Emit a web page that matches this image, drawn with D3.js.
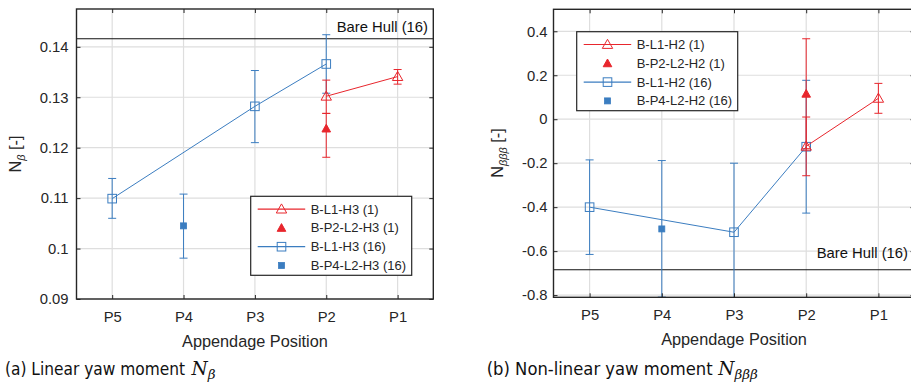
<!DOCTYPE html>
<html><head><meta charset="utf-8">
<script src="https://cdn.jsdelivr.net/npm/d3@7"></script>
<style>
html,body{margin:0;padding:0;background:#fff;}
svg{display:block;}
</style></head>
<body><div id="chart"></div>
<script>
// ---------- DATA ----------
const positions = ["P5", "P4", "P3", "P2", "P1"];

// Panel (a): linear yaw moment N_beta
const aTicks = [0.09, 0.10, 0.11, 0.12, 0.13, 0.14];
const aTickLabels = ["0.09", "0.1", "0.11", "0.12", "0.13", "0.14"];
const aL1H3_1 = [NaN, NaN, NaN, 0.1302, 0.1341];
const aL1H3_1_lo = [NaN, NaN, NaN, 0.1268, 0.1326];
const aL1H3_1_hi = [NaN, NaN, NaN, 0.1334, 0.1355];
const aP2L2H3_1 = [NaN, NaN, NaN, 0.1238, NaN];
const aP2L2H3_1_lo = [NaN, NaN, NaN, 0.1181, NaN];
const aP2L2H3_1_hi = [NaN, NaN, NaN, 0.1268, NaN];
const aL1H3_16 = [0.1099, NaN, 0.1282, 0.1366, NaN];
const aL1H3_16_lo = [0.1060, NaN, 0.1210, 0.1308, NaN];
const aL1H3_16_hi = [0.1139, NaN, 0.1353, 0.1424, NaN];
const aP4L2H3_16 = [NaN, 0.1045, NaN, NaN, NaN];
const aP4L2H3_16_lo = [NaN, 0.0981, NaN, NaN, NaN];
const aP4L2H3_16_hi = [NaN, 0.1108, NaN, NaN, NaN];
const aBareHull = 0.1416;
const aLegend = ["B-L1-H3 (1)", "B-P2-L2-H3 (1)", "B-L1-H3 (16)", "B-P4-L2-H3 (16)"];

// Panel (b): non-linear yaw moment N_bbb
const bTicks = [-0.8, -0.6, -0.4, -0.2, 0, 0.2, 0.4];
const bTickLabels = ["-0.8", "-0.6", "-0.4", "-0.2", "0", "0.2", "0.4"];
const bL1H2_1 = [NaN, NaN, NaN, -0.123, 0.095];
const bL1H2_1_lo = [NaN, NaN, NaN, -0.257, 0.027];
const bL1H2_1_hi = [NaN, NaN, NaN, 0.010, 0.163];
const bP2L2H2_1 = [NaN, NaN, NaN, 0.116, NaN];
const bP2L2H2_1_lo = [NaN, NaN, NaN, -0.134, NaN];
const bP2L2H2_1_hi = [NaN, NaN, NaN, 0.366, NaN];
const bL1H2_16 = [-0.400, NaN, -0.514, -0.125, NaN];
const bL1H2_16_lo = [-0.615, NaN, -0.828, -0.427, NaN];
const bL1H2_16_hi = [-0.185, NaN, -0.200, 0.177, NaN];
const bP4L2H2_16 = [NaN, -0.499, NaN, NaN, NaN];
const bP4L2H2_16_lo = [NaN, -0.809, NaN, NaN, NaN];
const bP4L2H2_16_hi = [NaN, -0.188, NaN, NaN, NaN];
const bBareHull = -0.685;
const bLegend = ["B-L1-H2 (1)", "B-P2-L2-H2 (1)", "B-L1-H2 (16)", "B-P4-L2-H2 (16)"];

// ---------- STYLE ----------
const RED = "#e8262d", BLUE = "#3b7dc0", AX = "#262626", GRID = "#dedede";
const FONT = "'Liberation Sans', Arial, sans-serif";

const svg = d3.select("#chart").append("svg").attr("width", 911).attr("height", 388)
  .style("background", "#fff");

function mk(vals, lo, hi) {
  return positions.map((p, i) => ({p, v: vals[i], lo: lo[i], hi: hi[i]})).filter(d => !isNaN(d.v));
}

function panel(o) {
  const g = svg.append("g");
  const x = d3.scalePoint().domain(positions).range([o.x0, o.x1]).padding(0.5);
  const y = d3.scaleLinear().domain(o.ydom).range([o.y1, o.y0]);
  const clipId = "clip" + o.id;
  svg.append("clipPath").attr("id", clipId).append("rect")
    .attr("x", o.x0).attr("y", o.y0).attr("width", o.x1 - o.x0).attr("height", o.y1 - o.y0);

  // grid
  const grid = g.append("g").attr("stroke", GRID).attr("stroke-width", 1.2);
  grid.selectAll(".gx").data(positions).join("line")
    .attr("x1", d => x(d)).attr("x2", d => x(d)).attr("y1", o.y0).attr("y2", o.y1);
  grid.selectAll(".gy").data(o.ticks).join("line")
    .attr("x1", o.x0).attr("x2", o.x1).attr("y1", d => y(d)).attr("y2", d => y(d));

  const plot = g.append("g").attr("clip-path", `url(#${clipId})`);

  // bare hull line
  plot.append("line").attr("x1", o.x0).attr("x2", o.x1)
    .attr("y1", y(o.bare)).attr("y2", y(o.bare)).attr("stroke", "#111").attr("stroke-width", 1.1);

  // draw blue series first so red sits on top, as in the reference
  const order = [2, 3, 0, 1];
  order.forEach(k => {
    const s = o.series[k];
    const data = mk(s.v, s.lo, s.hi);
    const sg = plot.append("g");
    data.forEach(d => {
      const cx = x(d.p);
      sg.append("line").attr("x1", cx).attr("x2", cx).attr("y1", y(d.lo)).attr("y2", y(d.hi))
        .attr("stroke", s.color).attr("stroke-width", 1);
      [d.lo, d.hi].forEach(e => sg.append("line").attr("x1", cx - 4).attr("x2", cx + 4)
        .attr("y1", y(e)).attr("y2", y(e)).attr("stroke", s.color).attr("stroke-width", 1));
    });
    if (s.line) {
      sg.append("path").datum(data).attr("fill", "none").attr("stroke", s.color).attr("stroke-width", 1)
        .attr("d", d3.line().x(d => x(d.p)).y(d => y(d.v)));
    }
    data.forEach(d => drawMarker(sg, s.marker, x(d.p), y(d.v), s.color));
  });

  // axes box
  g.append("rect").attr("x", o.x0).attr("y", o.y0).attr("width", o.x1 - o.x0).attr("height", o.y1 - o.y0)
    .attr("fill", "none").attr("stroke", AX).attr("stroke-width", 1.4);

  const yfmt = d => o.tickLabels[o.ticks.indexOf(d)];
  const left = g.append("g").attr("transform", `translate(${o.x0},0)`)
    .call(d3.axisLeft(y).tickValues(o.ticks).tickFormat(yfmt).tickSize(-4).tickPadding(o.ypad));
  const right = g.append("g").attr("transform", `translate(${o.x1},0)`)
    .call(d3.axisRight(y).tickValues(o.ticks).tickFormat("").tickSize(-4));
  const bottom = g.append("g").attr("transform", `translate(0,${o.y1})`)
    .call(d3.axisBottom(x).tickSize(-4).tickPadding(12));
  const top = g.append("g").attr("transform", `translate(0,${o.y0})`)
    .call(d3.axisTop(x).tickFormat("").tickSize(-4));
  [left, right, bottom, top].forEach(a => {
    a.select(".domain").remove();
    a.selectAll("line").attr("stroke", AX).attr("stroke-width", 1);
    a.selectAll("text").attr("fill", AX).style("font-family", FONT).style("font-size", "14.8px");
  });

  // bare hull label
  g.append("text").attr("x", o.bareLabelX).attr("y", o.bareLabelY).attr("text-anchor", "end")
    .attr("fill", "#111").style("font-family", FONT).style("font-size", "14.8px").text("Bare Hull (16)");

  // x label
  g.append("text").attr("x", (o.x0 + o.xlabelRight) / 2).attr("y", o.xlabelY).attr("text-anchor", "middle")
    .attr("fill", AX).style("font-family", FONT).style("font-size", "16.3px").text("Appendage Position");

  // y label
  const yl = g.append("text").attr("transform", `translate(${o.ylabelX},${o.ylabelY}) rotate(-90)`)
    .attr("text-anchor", "middle").attr("fill", AX).style("font-family", FONT).style("font-size", "16.3px");
  yl.append("tspan").text("N");
  yl.append("tspan").attr("dy", 4).style("font-size", "11px").style("font-style", "italic").text(o.sub);
  yl.append("tspan").attr("dy", -4).text(" [-]");

  // legend
  const L = g.append("g").attr("transform", `translate(${o.legX},${o.legY})`);
  L.append("rect").attr("width", 161).attr("height", 79).attr("fill", "#fff")
    .attr("stroke", AX).attr("stroke-width", 1.2);
  o.series.forEach((s, i) => {
    const ry = 12.8 + i * 18.8;
    if (s.line) L.append("line").attr("x1", 7).attr("x2", 54.5).attr("y1", ry).attr("y2", ry)
      .attr("stroke", s.color).attr("stroke-width", 1.2);
    drawMarker(L, s.marker, 30.8, ry, s.color);
    L.append("text").attr("x", 60).attr("y", ry + 4.6).attr("fill", AX)
      .style("font-family", FONT).style("font-size", "13px").text(o.legend[i]);
  });
}

function drawMarker(g, type, cx, cy, color) {
  if (type === "openTri") {
    const s = 5.2;
    g.append("path").attr("d", `M${cx},${cy - s}L${cx + s},${cy + s * 0.75}L${cx - s},${cy + s * 0.75}Z`)
      .attr("fill", "none").attr("stroke", color).attr("stroke-width", 1);
  } else if (type === "fillTri") {
    const s = 4.3;
    g.append("path").attr("d", `M${cx},${cy - s}L${cx + s},${cy + s * 0.8}L${cx - s},${cy + s * 0.8}Z`)
      .attr("fill", color).attr("stroke", color).attr("stroke-width", 1);
  } else if (type === "openSq") {
    g.append("rect").attr("x", cx - 4.3).attr("y", cy - 4.3).attr("width", 8.6).attr("height", 8.6)
      .attr("fill", "none").attr("stroke", color).attr("stroke-width", 1);
  } else if (type === "fillSq") {
    g.append("rect").attr("x", cx - 3).attr("y", cy - 3).attr("width", 6).attr("height", 6)
      .attr("fill", color).attr("stroke", color).attr("stroke-width", 0.8);
  }
}

panel({
  id: "a", x0: 76.5, x1: 433.3, y0: 9, y1: 299, ydom: [0.09, 0.1475],
  ticks: aTicks, tickLabels: aTickLabels, ypad: 8, bare: aBareHull,
  bareLabelX: 428, bareLabelY: 32, xlabelY: 347, xlabelRight: 433.3,
  ylabelX: 21, ylabelY: 154, sub: "β", legX: 250.7, legY: 196.3, legend: aLegend,
  series: [
    {v: aL1H3_1, lo: aL1H3_1_lo, hi: aL1H3_1_hi, color: RED, marker: "openTri", line: true},
    {v: aP2L2H3_1, lo: aP2L2H3_1_lo, hi: aP2L2H3_1_hi, color: RED, marker: "fillTri", line: false},
    {v: aL1H3_16, lo: aL1H3_16_lo, hi: aL1H3_16_hi, color: BLUE, marker: "openSq", line: true},
    {v: aP4L2H3_16, lo: aP4L2H3_16_lo, hi: aP4L2H3_16_hi, color: BLUE, marker: "fillSq", line: false}
  ]
});

panel({
  id: "b", x0: 553.5, x1: 914.5, y0: 9.3, y1: 297.3, ydom: [-0.81, 0.5],
  ticks: bTicks, tickLabels: bTickLabels, ypad: 6, bare: bBareHull,
  bareLabelX: 908, bareLabelY: 257.5, xlabelY: 345, xlabelRight: 914.5,
  ylabelX: 503, ylabelY: 153, sub: "βββ", legX: 576.7, legY: 31.7, legend: bLegend,
  series: [
    {v: bL1H2_1, lo: bL1H2_1_lo, hi: bL1H2_1_hi, color: RED, marker: "openTri", line: true},
    {v: bP2L2H2_1, lo: bP2L2H2_1_lo, hi: bP2L2H2_1_hi, color: RED, marker: "fillTri", line: false},
    {v: bL1H2_16, lo: bL1H2_16_lo, hi: bL1H2_16_hi, color: BLUE, marker: "openSq", line: true},
    {v: bP4L2H2_16, lo: bP4L2H2_16_lo, hi: bP4L2H2_16_hi, color: BLUE, marker: "fillSq", line: false}
  ]
});

// captions
function caption(xp, label, width, nx, sub) {
  svg.append("text").attr("x", xp).attr("y", 375).attr("fill", "#111")
    .attr("textLength", width).attr("lengthAdjust", "spacingAndGlyphs")
    .style("font-family", "'DejaVu Sans Condensed', 'DejaVu Sans', sans-serif").style("font-size", "17.5px")
    .text(label);
  const t = svg.append("text").attr("x", nx).attr("y", 375).attr("fill", "#111")
    .style("font-family", "'DejaVu Serif', 'Liberation Serif', serif").style("font-style", "italic");
  t.append("tspan").style("font-size", "18.5px").text("N");
  t.append("tspan").attr("dy", 4).style("font-size", "13.5px").text(sub);
}
caption(5, "(a) Linear yaw moment", 180, 191.5, "β");
caption(486.7, "(b) Non-linear yaw moment", 226, 718.3, "βββ");
</script>
</body></html>
